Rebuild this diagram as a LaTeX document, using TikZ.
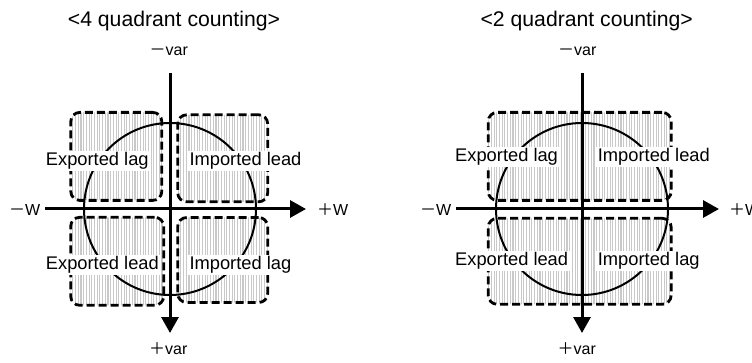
\documentclass[tikz,border=0pt]{standalone}
\usepackage{fontspec}
\setmainfont{Liberation Sans}
\newfontfamily\cjk{Noto Sans CJK JP}
\usetikzlibrary{arrows.meta,patterns.meta}
\tikzset{
  qbox/.style={draw, line width=2.8pt, dash pattern=on 8pt off 4pt, rounded corners=9pt,
    pattern={Lines[angle=90,distance=2.7pt,line width=1.1pt]}, pattern color=gray!42,
    inner sep=0pt, outer sep=0pt},
  ring/.style={draw, circle, line width=2pt, minimum size=172pt, inner sep=0pt},
  axis/.style={line width=3pt, -{Triangle[length=16pt,width=17pt]}},
  qlabel/.style={fill=white, inner sep=1.5pt, anchor=base west, font=\fontsize{18.3}{20}\selectfont},
  ttl/.style={anchor=base, font=\fontsize{21.2}{24}\selectfont, inner sep=0pt},
  axl/.style={anchor=base west, font=\fontsize{16}{18}\selectfont, inner sep=0pt}
}
\begin{document}
\begin{tikzpicture}[x=1pt,y=-1pt]
\useasboundingbox (0,0) rectangle (752,363);
% ---------- left diagram ----------
\node[ttl] (t1) at (174,26.7) {<4 quadrant counting>};
\node[qbox, minimum width=91pt, minimum height=88pt] (b1) at (116.3,156.4) {};
\node[qbox, minimum width=90pt, minimum height=87pt] (b2) at (222.7,158.3) {};
\node[qbox, minimum width=93pt, minimum height=88pt] (b3) at (117.2,261.3) {};
\node[qbox, minimum width=90pt, minimum height=85pt] (b4) at (222.7,260) {};
\node[ring] (c1) at (170,209) {};
\node[qlabel] (l1) at (44.2,165.7) {Exported lag};
\node[qlabel] (l2) at (187.8,165.7) {Imported lead};
\node[qlabel] (l3) at (44.2,270) {Exported lead};
\node[qlabel] (l4) at (187.8,270) {Imported lag};
\coordinate (v1s) at (170,73);
\coordinate (v1e) at (170,333);
\coordinate (h1s) at (45,209);
\coordinate (h1e) at (306,209);
\draw[axis] (v1s) -- (v1e);
\draw[axis] (h1s) -- (h1e);
\node[axl] (a1) at (149.5,56) {{\cjk －}var};
\node[axl] (a2) at (149,354) {{\cjk ＋}var};
\node[axl] (a3) at (9,215.7) {{\cjk －}W};
\node[axl] (a4) at (317,215.7) {{\cjk ＋}W};
% ---------- right diagram ----------
\node[ttl] (t2) at (586.7,26.7) {<2 quadrant counting>};
\node[qbox, minimum width=183pt, minimum height=88pt] (b5) at (579.7,156.4) {};
\node[qbox, minimum width=183pt, minimum height=86pt] (b6) at (579.7,261.3) {};
\node[ring] (c2) at (582,209) {};
\node[qlabel] (l5) at (453.5,161.7) {Exported lag};
\node[qlabel] (l6) at (596.2,161.7) {Imported lead};
\node[qlabel] (l7) at (453.5,266) {Exported lead};
\node[qlabel] (l8) at (596.2,266) {Imported lag};
\coordinate (v2s) at (582,73);
\coordinate (v2e) at (582,333);
\coordinate (h2s) at (456,209);
\coordinate (h2e) at (719,209);
\draw[axis] (v2s) -- (v2e);
\draw[axis] (h2s) -- (h2e);
\node[axl] (a5) at (558,56) {{\cjk －}var};
\node[axl] (a6) at (557.5,354) {{\cjk ＋}var};
\node[axl] (a7) at (420,215.7) {{\cjk －}W};
\node[axl] (a8) at (729,215.7) {{\cjk ＋}W};
\end{tikzpicture}
\end{document}
